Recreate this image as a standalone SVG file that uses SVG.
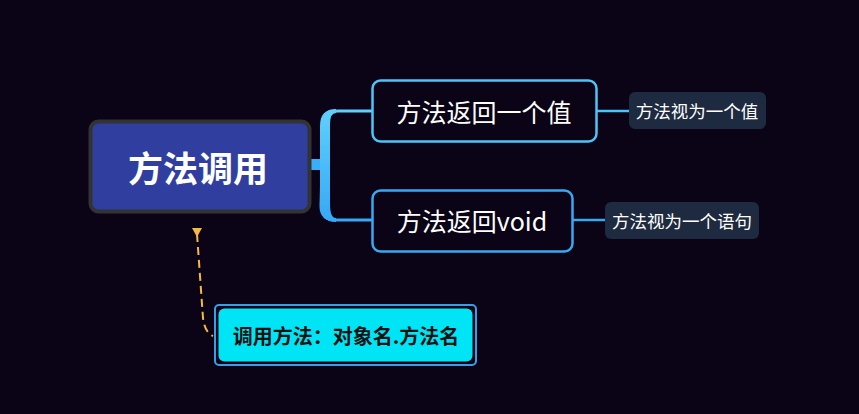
<svg xmlns="http://www.w3.org/2000/svg" width="859" height="414" viewBox="0 0 859 414">
<defs>
<style>
text{font-family:"Noto Sans CJK SC","Noto Sans",sans-serif;text-anchor:middle;dominant-baseline:central}
.child{fill:#0a0416;stroke-width:2.5}
.sub{fill:#1e2a40}
.subt{fill:#ffffff;font-size:17.5px}
.ct{fill:#ffffff;font-size:25px}
.line{fill:none;stroke-width:2.5}
</style>
<linearGradient id="br" x1="0" y1="0" x2="0" y2="1">
<stop offset="0" stop-color="#5fd0fb"/>
<stop offset="1" stop-color="#36a8f6"/>
</linearGradient>
</defs>
<rect width="859" height="414" fill="#0a0416"/>
<g id="connectors">
<rect x="308" y="159" width="18" height="11" fill="#3aaef8"/>
<path d="M372,111 L338,111 Q324,111 323,124 L321,206 Q321,220 336,220 L372,220" fill="none" stroke="url(#br)" stroke-width="3"/>
<path d="M336,109 Q320,109 320,126 L320,204 Q320,222 336,222 L336,218 Q330,218 330,204 L330,124 Q330,113 336,113 Z" fill="url(#br)"/>
<path class="line" d="M597,111 L629,111" stroke="#4fc3f7"/>
<path class="line" d="M573,220 L605,220" stroke="#3aa8f0"/>
<path d="M197,234 L203,318 Q205,333 213,336" fill="none" stroke="#f5b942" stroke-width="2" stroke-dasharray="8,5"/>
<path d="M192,228 L202,228 L197,237 Z" fill="#f5b942"/>
</g>
<g id="main">
<rect x="90.5" y="121.5" width="219" height="90" rx="8" fill="#303f9f" stroke="#333333" stroke-width="4"/>
<text x="198" y="166" fill="#ffffff" font-size="35" font-weight="bold">方法调用</text>
</g>
<g id="child1">
<rect class="child" x="372.5" y="80.5" width="224" height="61" rx="8" stroke="#4fc3f7"/>
<text class="ct" x="484" y="111">方法返回一个值</text>
</g>
<g id="child2">
<rect class="child" x="372.5" y="190.5" width="200" height="61" rx="8" stroke="#3aa8f0"/>
<text class="ct" x="472" y="220">方法返回void</text>
</g>
<g id="sub1">
<rect class="sub" x="629" y="92" width="137" height="37" rx="6"/>
<text class="subt" x="697" y="110">方法视为一个值</text>
</g>
<g id="sub2">
<rect class="sub" x="605" y="202" width="154" height="37" rx="6"/>
<text class="subt" x="682" y="220">方法视为一个语句</text>
</g>
<g id="callout">
<rect x="215" y="305" width="261" height="60" rx="4" fill="#0a0416" stroke="#3a9ee6" stroke-width="2"/>
<rect x="218.5" y="308.5" width="254" height="53" rx="6" fill="#00e5f5"/>
<text x="346" y="335" fill="#111111" font-size="20" font-weight="bold">调用方法：对象名.方法名</text>
</g>
</svg>
